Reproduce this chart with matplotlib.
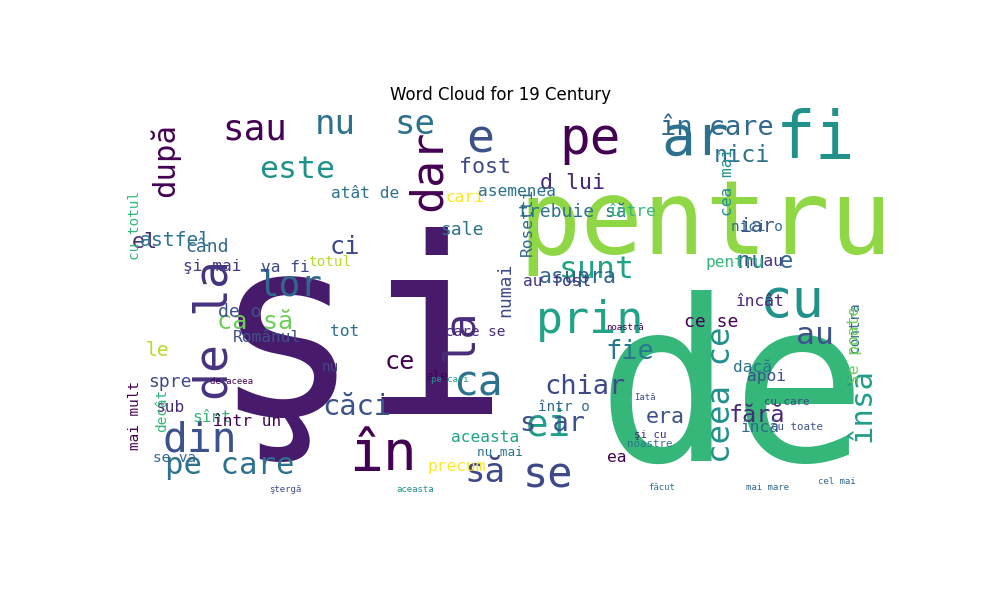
import matplotlib
matplotlib.use("Agg")
import matplotlib.pyplot as plt

# word, x-center(px), y-center(px), font size(px), rotation, colour
words = ["şi","de","pentru","de la","dar","la","pe","e","ar","fi","sau","nu","se","după","este",
         "lor","prin","cu","sunt","căci","ca","din","pe care","în","să","se","ei","însă","ceea ce",
         "au","fie","chiar","fără","era","s ar","nici","în care","d lui","fost","ci","el","când",
         "şi mai","ca să","de o","va fi","asupra","numai","sale","cari","atât de","trebuie să","între",
         "iar","n au","nu e","pentru","ce se","încât","contra","se poate","dacă","apoi","încă",
         "aceasta","nu mai","într o","ea","precum","sînt","într un","ale","ce","le","spre","sub",
         "decât","mai mult","se va","Românul","astfel","cu totul","asemenea","Rosetti","nici o",
         "cea mai","totul","tot","au fost","nu","care se","cu care","cu toate","noastre","şi cu",
         "făcut","mai mare","cel mai","aceasta","ştergă","de aceea","Iată","pe cari","noastră"]
xs = [360,732,705,215,428,460,590,480,695,815,255,335,415,165,297,
      290,590,792,597,357,478,200,230,383,485,548,548,862,722,
      815,630,585,757,665,552,742,717,572,485,345,145,207,
      212,255,240,285,578,505,462,465,365,572,632,
      757,763,765,735,711,760,855,855,752,767,760,
      485,500,564,617,457,212,247,437,400,157,170,170,
      162,135,175,267,175,135,517,527,757,
      727,330,345,557,330,475,787,797,650,650,
      662,767,837,415,285,232,645,450,625]
ys = [345,398,225,330,170,335,140,140,140,140,130,125,125,160,170,
      285,320,302,270,407,385,440,465,455,472,475,425,405,395,
      335,352,387,415,417,424,155,128,183,167,247,242,247,
      267,322,312,267,277,290,230,197,193,212,212,
      227,262,262,262,322,302,327,345,367,377,427,
      437,452,407,457,467,417,422,377,362,350,382,407,
      410,415,458,337,241,225,192,222,227,
      182,262,332,282,367,332,402,427,444,435,
      487,487,482,490,490,382,397,380,327]
sizes = [330,300,138,62,60,58,68,62,75,88,48,38,38,34,35,
         48,60,72,35,32,55,55,34,75,38,56,50,34,36,
         42,30,30,26,24,30,26,30,24,24,28,24,20,
         18,28,20,18,24,20,20,18,18,20,18,
         22,18,26,18,20,18,16,18,18,18,18,
         18,14,16,18,18,18,18,14,28,22,20,18,
         16,16,16,18,22,16,18,18,16,
         18,16,18,18,16,16,12,12,12,12,
         10,10,10,10,10,10,10,10,10]
rots = [0,0,0,90,90,90,0,0,0,0,0,0,0,90,0,
        0,0,0,0,0,0,0,0,0,0,0,0,90,90,
        0,0,0,0,0,0,0,0,0,0,0,0,0,
        0,0,0,0,0,90,0,0,0,0,0,
        0,0,0,0,0,0,90,90,0,0,0,
        0,0,0,0,0,0,0,0,0,0,0,0,
        90,90,0,0,0,90,0,90,0,
        90,0,0,0,0,0,0,0,0,0,
        0,0,0,0,0,0,0,0,0]
colors = ["#481a6c","#35b779","#8fd744","#46327e","#440154","#472c7a","#440154","#3b528b","#2c728e","#21918c","#440154","#2c728e","#2c728e","#440154","#21918c",
          "#31688e","#20a386","#21918c","#20a386","#3b528b","#2c728e","#3b528b","#2c728e","#440154","#3e4989","#3e4989","#1f9e89","#1f9e89","#21918c",
          "#3b528b","#2a788e","#3e4989","#482878","#3b528b","#3b528b","#2c728e","#31688e","#482878","#3e4989","#3e4989","#472c7a","#31688e",
          "#443983","#6ece58","#3b528b","#3e4989","#31688e","#3e4989","#2c728e","#fde725","#2c728e","#2c728e","#35b779",
          "#3b528b","#46327e","#31688e","#35b779","#440154","#482878","#31688e","#6ece58","#2c728e","#3b528b","#31688e",
          "#20a386","#2c728e","#31688e","#440154","#fde725","#35b779","#440154","#440154","#440154","#b5de2b","#3e4989","#482878",
          "#35b779","#440154","#31688e","#3b528b","#2c728e","#35b779","#2c728e","#31688e","#31688e",
          "#21918c","#b5de2b","#2c728e","#46327e","#3e4989","#482878","#3e4989","#3b528b","#2c728e","#482878",
          "#2c728e","#31688e","#31688e","#21918c","#3e4989","#440154","#3e4989","#1f9e89","#440154"]

fig = plt.figure(figsize=(10, 6), dpi=100)
ax = fig.add_axes([128/1000, 1-527/600, 744/1000, 424/600])
ax.set_xlim(128, 872)
ax.set_ylim(527, 103)
ax.axis("off")
for w, x, y, s, r, c in zip(words, xs, ys, sizes, rots, colors):
    f = 0.75 if s >= 40 else 0.9
    ax.text(x, y, w, fontsize=s*0.72*f, rotation=r, color=c, ha="center", va="center",
            family="DejaVu Sans Mono", rotation_mode="anchor")
fig.text(0.5, 1-95/600, "Word Cloud for 19 Century", ha="center", va="center", fontsize=12)
fig.savefig("out.png")
